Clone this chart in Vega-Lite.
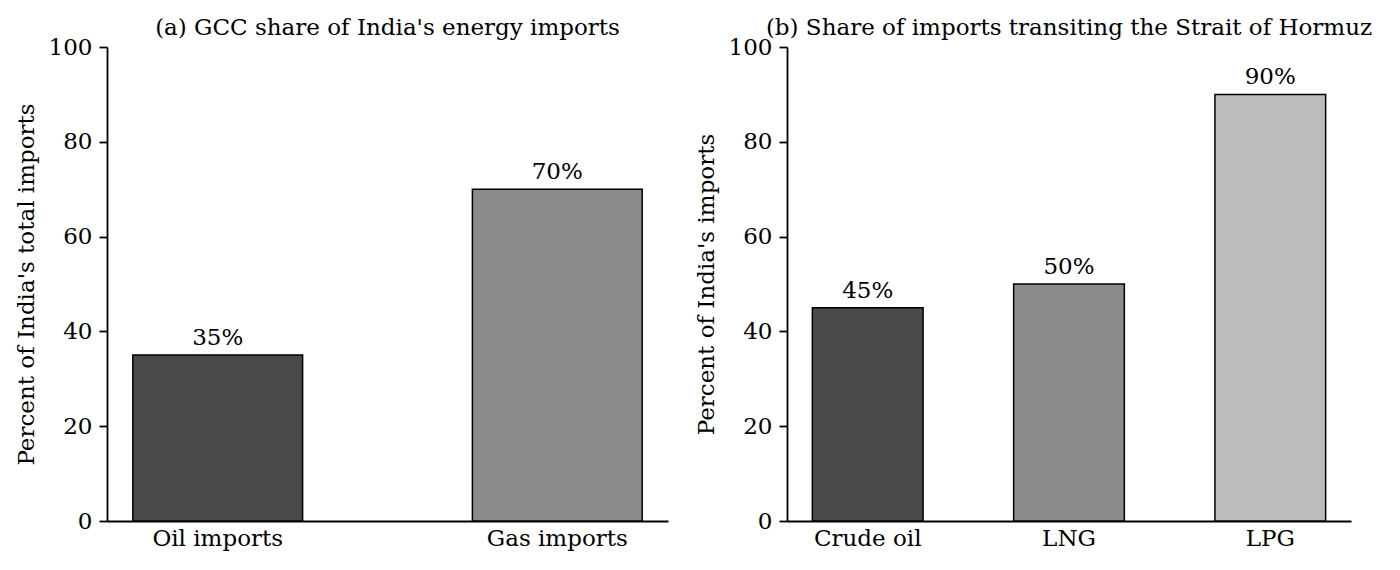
{
  "$schema": "https://vega.github.io/schema/vega-lite/v6.json",
  "background": "white",
  "padding": {"left": 15, "top": 17, "right": 5, "bottom": 5},
  "spacing": 27,
  "config": {
    "view": {"stroke": null},
    "font": "DejaVu Serif",
    "title": {"font": "DejaVu Serif", "fontSize": 23, "fontWeight": "normal", "color": "black", "offset": -4},
    "axis": {
      "labelFont": "DejaVu Serif",
      "labelFontSize": 23,
      "labelColor": "black",
      "titleFont": "DejaVu Serif",
      "titleFontSize": 23,
      "titleFontWeight": "normal",
      "titleColor": "black",
      "domainColor": "black",
      "domainWidth": 1.8,
      "tickColor": "black",
      "tickWidth": 1.8,
      "grid": false
    },
    "axisY": {"tickSize": 8, "labelPadding": 7, "titlePadding": 10},
    "axisX": {"ticks": false, "labelAngle": 0, "labelPadding": 6, "title": null}
  },
  "datasets": {
    "gcc": [
      {"item": "Oil imports", "value": 35, "label": "35%"},
      {"item": "Gas imports", "value": 70, "label": "70%"}
    ],
    "hormuz": [
      {"item": "Crude oil", "value": 45, "label": "45%"},
      {"item": "LNG", "value": 50, "label": "50%"},
      {"item": "LPG", "value": 90, "label": "90%"}
    ]
  },
  "hconcat": [
    {
      "width": 561,
      "height": 474,
      "title": "(a) GCC share of India's energy imports",
      "data": {"name": "gcc"},
      "encoding": {
        "x": {
          "field": "item",
          "type": "nominal",
          "sort": null,
          "scale": {"paddingInner": 0.5, "paddingOuter": 0.076}
        },
        "y": {
          "field": "value",
          "type": "quantitative",
          "scale": {"domain": [0, 100], "nice": false},
          "axis": {"title": "Percent of India's total imports", "values": [0, 20, 40, 60, 80, 100]}
        }
      },
      "layer": [
        {
          "mark": {"type": "bar", "stroke": "black", "strokeWidth": 1.5},
          "encoding": {
            "color": {
              "field": "item",
              "type": "nominal",
              "scale": {"domain": ["Oil imports", "Gas imports"], "range": ["#4a4a4a", "#8b8b8b"]},
              "legend": null
            }
          }
        },
        {
          "mark": {"type": "text", "baseline": "alphabetic", "dy": -10, "fontSize": 23, "font": "DejaVu Serif", "color": "black"},
          "encoding": {"text": {"field": "label"}}
        }
      ]
    },
    {
      "width": 564,
      "height": 474,
      "title": "(b) Share of imports transiting the Strait of Hormuz",
      "data": {"name": "hormuz"},
      "encoding": {
        "x": {
          "field": "item",
          "type": "nominal",
          "sort": null,
          "scale": {"paddingInner": 0.45, "paddingOuter": 0.126}
        },
        "y": {
          "field": "value",
          "type": "quantitative",
          "scale": {"domain": [0, 100], "nice": false},
          "axis": {"title": "Percent of India's imports", "values": [0, 20, 40, 60, 80, 100]}
        }
      },
      "layer": [
        {
          "mark": {"type": "bar", "stroke": "black", "strokeWidth": 1.5},
          "encoding": {
            "color": {
              "field": "item",
              "type": "nominal",
              "scale": {"domain": ["Crude oil", "LNG", "LPG"], "range": ["#4a4a4a", "#8b8b8b", "#bdbdbd"]},
              "legend": null
            }
          }
        },
        {
          "mark": {"type": "text", "baseline": "alphabetic", "dy": -10, "fontSize": 23, "font": "DejaVu Serif", "color": "black"},
          "encoding": {"text": {"field": "label"}}
        }
      ]
    }
  ],
  "resolve": {"scale": {"color": "independent"}}
}
